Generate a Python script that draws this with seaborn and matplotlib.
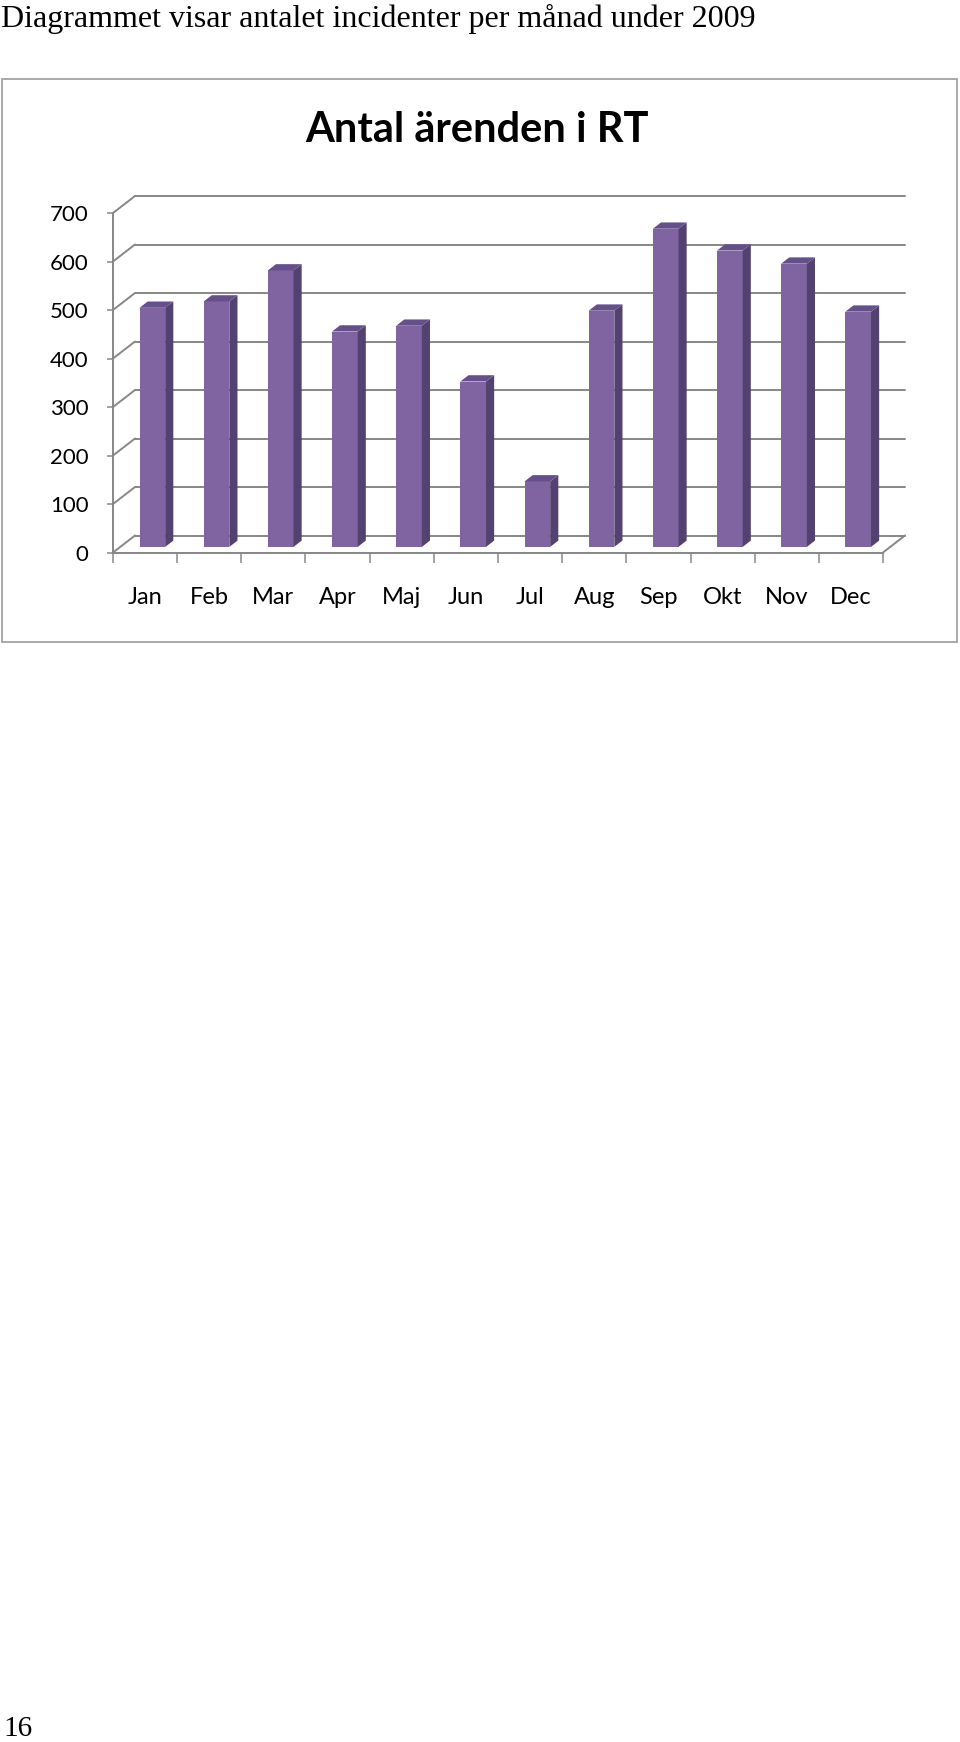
import numpy as np
import pandas as pd
import matplotlib
matplotlib.use("Agg")
import matplotlib.pyplot as plt
import seaborn as sns
from matplotlib import transforms as mtransforms
from matplotlib.patches import Polygon, Rectangle
from matplotlib.lines import Line2D

# ---------------- data ----------------
months = ["Jan", "Feb", "Mar", "Apr", "Maj", "Jun", "Jul", "Aug", "Sep", "Okt", "Nov", "Dec"]
incidents = [493, 506, 570, 444, 456, 341, 135, 487, 656, 611, 584, 485]
y_ticks = [0, 100, 200, 300, 400, 500, 600, 700]
page_heading = "Diagrammet visar antalet incidenter per månad under 2009"
chart_title = "Antal ärenden i RT"
page_number = "16"

# ---------------- style ----------------
FRONT = "#8064A2"
SIDE = "#53416F"
TOP = "#66508A"
GRID = "#878787"
BOX = "#A3A3A3"

sns.set_theme(style="white")
plt.rcParams["font.family"] = ["Lato", "DejaVu Sans"]

W, H = 960, 1742
fig = plt.figure(figsize=(W / 100, H / 100), dpi=100)


def rect(x0, y0, x1, y1):
    return [x0 / W, 1 - y1 / H, (x1 - x0) / W, (y1 - y0) / H]


# chart frame
fig.patches.append(Rectangle((2 / W, 1 - 641.5 / H), 955 / W, 562 / H,
                             transform=fig.transFigure, fill=False,
                             edgecolor=BOX, linewidth=1.3))

ax = fig.add_axes(rect(113, 213, 883, 552.5))
df = pd.DataFrame({"month": months, "count": incidents})
sns.barplot(data=df, x="month", y="count", order=months, color=FRONT,
            saturation=1, width=0.4, ax=ax, zorder=5)
ax.set_xlim(-0.5, 11.5)
ax.set_ylim(0, 700)
ax.set_xlabel("")
ax.set_ylabel("")

# oblique depth vector in data units
px_per_cat = 770 / 12
px_per_unit = 339.5 / 700
dxd = 22 / px_per_cat
dyd = 17 / px_per_unit
f0, f1 = 0.33, 0.70
xl, xr = -0.5, 11.5

# back wall grid + side wall diagonals
for v in y_ticks:
    ax.add_line(Line2D([xl + dxd, xr + dxd], [v + dyd, v + dyd], color=GRID,
                       lw=1.4, clip_on=False, zorder=1))
    ax.add_line(Line2D([xl, xl + dxd], [v, v + dyd], color=GRID,
                       lw=1.4, clip_on=False, zorder=1))
ax.add_line(Line2D([xr, xr + dxd], [0, dyd], color=GRID, lw=1.4,
                   clip_on=False, zorder=1))

# 3-D bar faces
shift = mtransforms.Affine2D().translate(f0 * dxd, f0 * dyd) + ax.transData
bdx, bdy = (f1 - f0) * dxd, (f1 - f0) * dyd
for p in ax.patches:
    x0 = p.get_x()
    x1 = x0 + p.get_width()
    h = p.get_height()
    p.set_transform(shift)
    p.set_clip_on(False)
    p.set_linewidth(0)
    side = Polygon([(x1, 0), (x1, h), (x1 + bdx, h + bdy), (x1 + bdx, bdy)],
                   closed=True, facecolor=SIDE, edgecolor="none",
                   transform=shift, clip_on=False, zorder=5)
    top = Polygon([(x0, h), (x1, h), (x1 + bdx, h + bdy), (x0 + bdx, h + bdy)],
                  closed=True, facecolor=TOP, edgecolor="none",
                  transform=shift, clip_on=False, zorder=5)
    ax.add_patch(side)
    ax.add_patch(top)

# axes / ticks
for s in ["top", "right"]:
    ax.spines[s].set_visible(False)
for s in ["left", "bottom"]:
    ax.spines[s].set_color(GRID)
    ax.spines[s].set_linewidth(1.4)
    ax.spines[s].set_zorder(2)
ax.set_yticks(y_ticks)
ax.set_yticklabels([str(v) for v in y_ticks])
ax.set_xticks(range(len(months)))
ax.set_xticklabels(months)
ax.set_xticks(np.arange(-0.5, 12, 1.0), minor=True)
ax.tick_params(axis="y", left=True, length=4.5, width=1.1, color=GRID,
               pad=13, labelsize=16, labelcolor="black")
ax.tick_params(axis="x", which="major", bottom=True, length=0, pad=24.5,
               labelsize=17, labelcolor="black")
ax.tick_params(axis="x", which="minor", bottom=True, length=7, width=1.1,
               color=GRID)
ax.set_facecolor("none")

# titles and page text
fig.text(477 / W, 1 - 130 / H, chart_title, ha="center", va="center",
         fontsize=30, fontweight="bold", color="black")
fig.text(1 / W, 1 - 27 / H, page_heading, ha="left", va="baseline",
         fontsize=23, color="black",
         family=["Liberation Serif", "DejaVu Serif"])
fig.text(3 / W, 1 - 1736 / H, page_number, ha="left", va="baseline",
         fontsize=21, color="black",
         family=["Liberation Serif", "DejaVu Serif"])

fig.savefig("out.png", dpi=100, facecolor="white")
